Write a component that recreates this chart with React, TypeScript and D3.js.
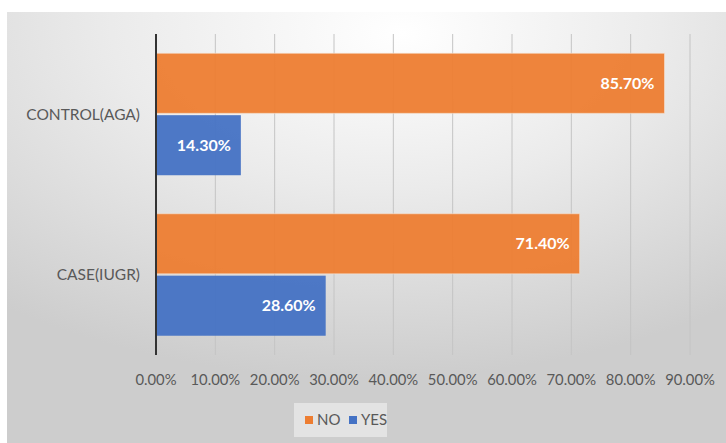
import React from "react";
import { scaleBand, scaleLinear } from "d3";

const categories = ["CONTROL(AGA)", "CASE(IUGR)"];
const seriesNames = ["NO", "YES"];
const noValues = [0.857, 0.714];
const yesValues = [0.143, 0.286];
const xTicks = [0, 0.1, 0.2, 0.3, 0.4, 0.5, 0.6, 0.7, 0.8, 0.9];
const colors = ["#ED7D31", "#4472C4"];

const W = 726;
const H = 443;
const LEFT = 156;
const RIGHT = 690;
const TOP = 34;
const BOTTOM = 355;
const FONT = "Lato, 'Open Sans', sans-serif";

export default function App() {
  const xScale = scaleLinear().domain([0, 0.9]).range([LEFT, RIGHT]);
  const yScale = scaleBand<string>()
    .domain(categories)
    .range([TOP, BOTTOM])
    .paddingInner(0.24)
    .paddingOuter(0.12);
  const inner = scaleBand<string>()
    .domain(seriesNames)
    .range([0, yScale.bandwidth()])
    .paddingInner(0.03);

  const values = [noValues, yesValues];
  const fmt = (v: number) => (v * 100).toFixed(2) + "%";

  return (
    <svg
      width={W}
      height={H}
      style={{ position: "absolute", left: 0, top: 0 }}
      fontFamily={FONT}
    >
      <defs>
        <radialGradient id="bg" cx="0.5" cy="0" r="0.85" fx="0.55" fy="0.05">
          <stop offset="0" stopColor="#ffffff" />
          <stop offset="0.45" stopColor="#ebebeb" />
          <stop offset="1" stopColor="#cdcdcd" />
        </radialGradient>
      </defs>
      <rect x={0} y={0} width={W} height={H} fill="#ffffff" />
      <rect x={7} y={12} width={W - 7} height={H - 12} fill="url(#bg)" />

      {/* gridlines */}
      {xTicks.slice(1).map(t => (
        <line
          key={t}
          x1={xScale(t)}
          x2={xScale(t)}
          y1={TOP}
          y2={BOTTOM}
          stroke="#c4c4c4"
          strokeWidth={1}
        />
      ))}

      {/* bars */}
      {categories.map((c, i) => (
        <g key={c} transform={`translate(0, ${yScale(c)})`}>
          {seriesNames.map((s, j) => {
            const v = values[j][i];
            const y = inner(s)!;
            const h = inner.bandwidth();
            return (
              <g key={s}>
                <rect
                  x={xScale(0)}
                  y={y}
                  width={xScale(v) - xScale(0)}
                  height={h}
                  fill={colors[j]}
                  fillOpacity={0.95}
                  stroke="#f6e3d4"
                  strokeOpacity={j === 0 ? 0.6 : 0}
                />
                <text
                  x={xScale(v) - 10}
                  y={y + h / 2}
                  dy="0.35em"
                  textAnchor="end"
                  fill="#ffffff"
                  fontWeight="bold"
                  fontSize={16}
                >
                  {fmt(v)}
                </text>
              </g>
            );
          })}
          <text
            x={140}
            y={yScale.bandwidth() / 2}
            dy="0.35em"
            textAnchor="end"
            fill="#595959"
            fontSize={15.5}
          >
            {c}
          </text>
        </g>
      ))}

      {/* left axis */}
      <line x1={LEFT} x2={LEFT} y1={TOP} y2={BOTTOM} stroke="#333" strokeWidth={2} />

      {/* x tick labels */}
      {xTicks.map(t => (
        <text
          key={t}
          x={xScale(t)}
          y={380}
          dy="0.35em"
          textAnchor="middle"
          fill="#595959"
          fontSize={14.8}
        >
          {fmt(t)}
        </text>
      ))}

      {/* legend */}
      <rect x={294} y={403} width={93} height={34} fill="#ececec" fillOpacity={0.7} />
      {seriesNames.map((s, j) => {
        const lx = [305, 349][j];
        return (
          <g key={s}>
            <rect x={lx} y={416} width={8} height={8} fill={colors[j]} />
            <text x={lx + 12} y={420} dy="0.35em" fill="#595959" fontSize={15}>
              {s}
            </text>
          </g>
        );
      })}
    </svg>
  );
}
